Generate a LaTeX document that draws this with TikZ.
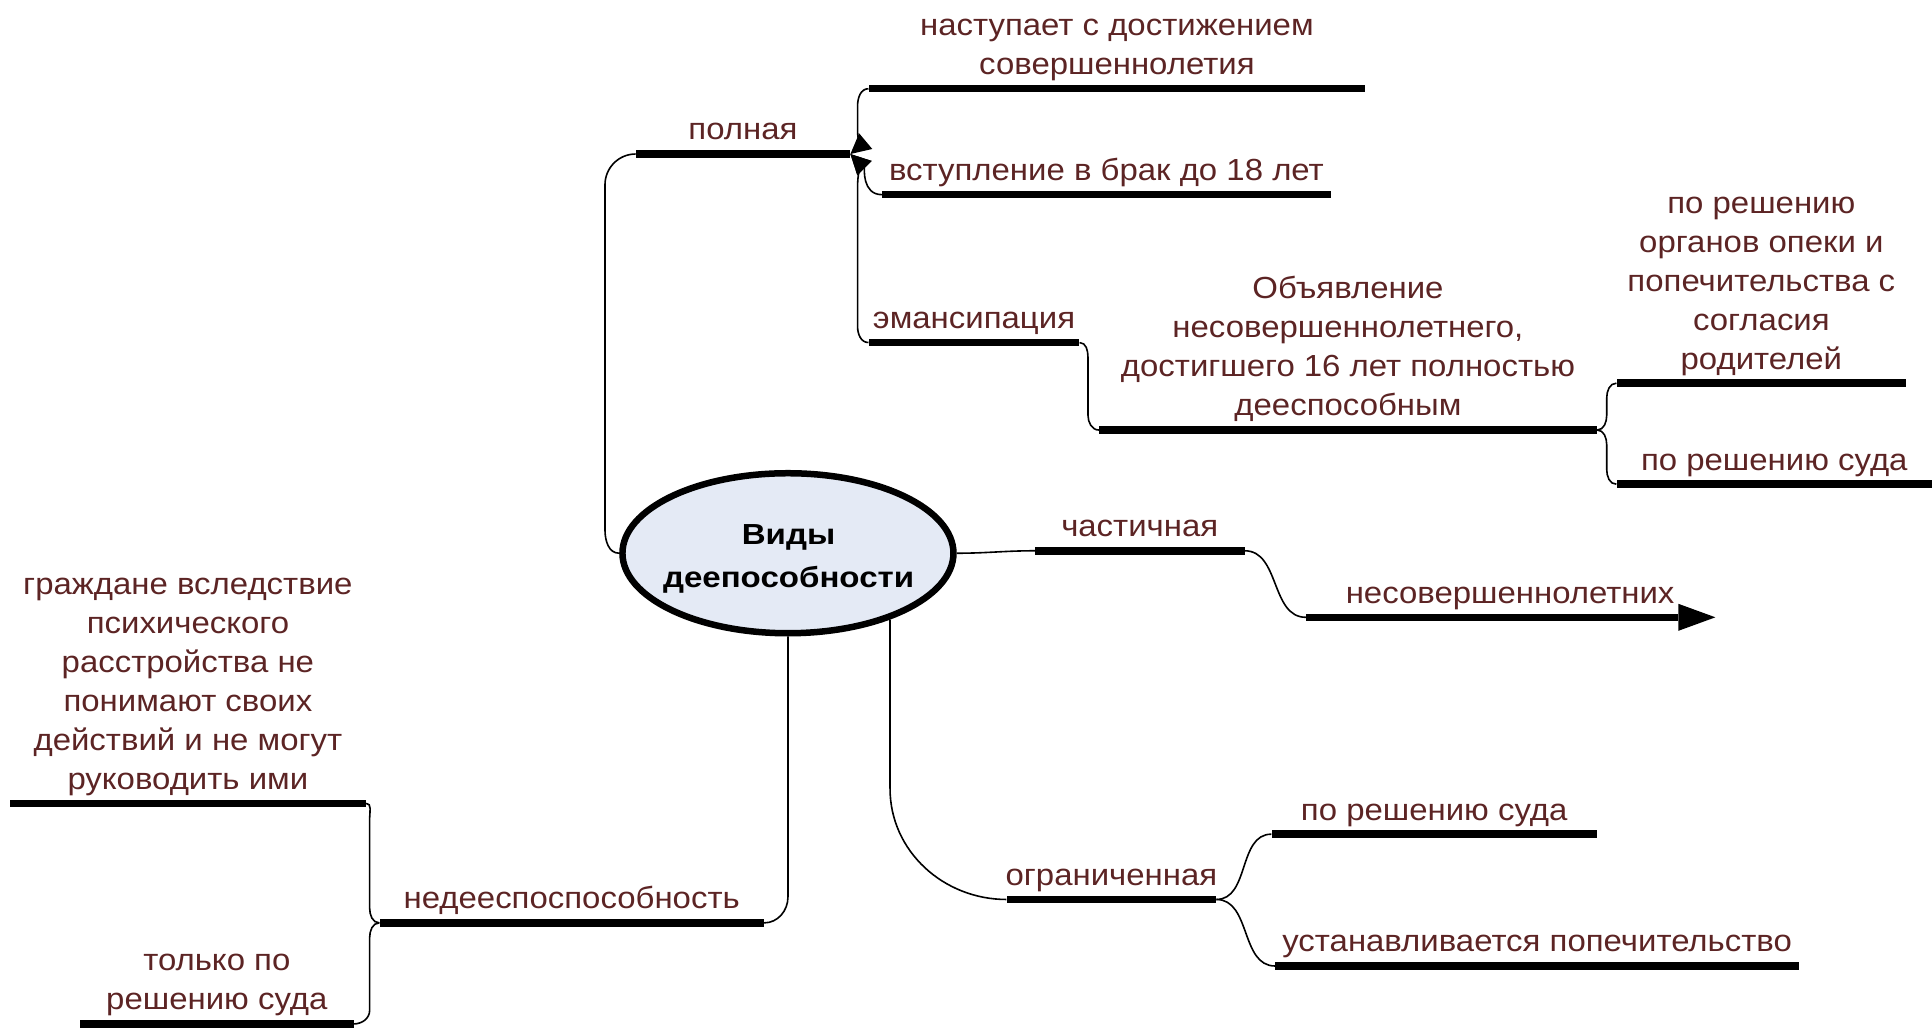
\documentclass[tikz,border=0pt]{standalone}
\usepackage{fontspec}
\setmainfont{Liberation Sans}[FakeStretch=1.08]
\newfontfamily\ellfont{Liberation Sans}[FakeStretch=1.14]
\usetikzlibrary{arrows.meta,shapes.geometric,calc}
\definecolor{txt}{RGB}{92,36,36}
\definecolor{ellfill}{RGB}{228,234,245}
\begin{document}
\begin{tikzpicture}[x=1.2321pt,y=-1.2321pt,
  bar/.style={rectangle,fill=black,inner sep=0pt,minimum height=7.5pt},
  lbl/.style={anchor=south,inner sep=0pt,text depth=0pt,align=center,text=txt,
    font=\fontsize{30.5pt}{39pt}\selectfont},
  conn/.style={line width=1.6pt,black},
  tip/.style={-{Triangle[length=20pt,width=20pt]}}]
\useasboundingbox (0,0) rectangle (1568,835);

% central ellipse
\node[ellipse,draw,line width=6.5pt,fill=ellfill,minimum width=331pt,minimum height=160pt,
  inner sep=0pt] (root) at (639.5,449) {};
\node[align=center,inner sep=0pt,font=\ellfont\bfseries\fontsize{29pt}{43pt}\selectfont]
  (root-t) at (640,454) {Виды\\деепособности};

% bars
\node[bar,minimum width=496.5pt] (nas) at (906.5,72) {};
\node[bar,minimum width=214.4pt] (pol) at (603,125) {};
\node[bar,minimum width=448.5pt] (vst) at (898,158) {};
\node[bar,minimum width=210.7pt] (ema) at (790.5,278) {};
\node[bar,minimum width=497.8pt] (obj) at (1094,349) {};
\node[bar,minimum width=289.5pt] (org) at (1429.5,311) {};
\node[bar,minimum width=315.4pt] (sud1) at (1440,393) {};
\node[bar,minimum width=209.5pt] (cha) at (925,447) {};
\node[bar,minimum width=372.1pt] (nes) at (1211,501) {};
\node[bar,minimum width=209.5pt] (ogr) at (902,730) {};
\node[bar,minimum width=325.3pt] (sud2) at (1164,677) {};
\node[bar,minimum width=523.6pt] (ust) at (1247.5,784) {};
\node[bar,minimum width=384.4pt] (ned) at (464,749) {};
\node[bar,minimum width=356.1pt] (gra) at (152.5,652) {};
\node[bar,minimum width=273.5pt] (tol) at (176,831) {};
\fill ([yshift=13.5pt]nes.east) -- ([xshift=37pt]nes.east) -- ([yshift=-13.5pt]nes.east) -- cycle;

% labels
\node[lbl] (nas-t) at ([yshift=10pt]nas.north) {наступает с достижением\\совершеннолетия};
\node[lbl] (pol-t) at ([yshift=10pt]pol.north) {полная};
\node[lbl] (vst-t) at ([yshift=10pt]vst.north) {вступление в брак до 18 лет};
\node[lbl] (ema-t) at ([yshift=10pt]ema.north) {эмансипация};
\node[lbl] (obj-t) at ([yshift=10pt]obj.north) {Объявление\\несовершеннолетнего,\\достигшего 16 лет полностью\\дееспособным};
\node[lbl] (org-t) at ([yshift=10pt]org.north) {по решению\\органов опеки и\\попечительства с\\согласия\\родителей};
\node[lbl] (sud1-t) at ([yshift=10pt]sud1.north) {по решению суда};
\node[lbl] (cha-t) at ([yshift=10pt]cha.north) {частичная};
\node[lbl] (nes-t) at ([xshift=18pt,yshift=10pt]nes.north) {несовершеннолетних};
\node[lbl] (ogr-t) at ([yshift=10pt]ogr.north) {ограниченная};
\node[lbl] (sud2-t) at ([yshift=10pt]sud2.north) {по решению суда};
\node[lbl] (ust-t) at ([yshift=10pt]ust.north) {устанавливается попечительство};
\node[lbl] (ned-t) at ([yshift=10pt]ned.north) {недееспоспособность};
\node[lbl] (gra-t) at ([yshift=10pt]gra.north) {граждане вследствие\\психического\\расстройства не\\понимают своих\\действий и не могут\\руководить ими};
\node[lbl] (tol-t) at ([yshift=10pt]tol.north) {только по\\решению суда};

% connectors
\draw[conn] (root.west) to[out=180,in=-90] (491,430) -- (491,150) to[out=90,in=180] (pol.west);
\draw[conn] (root.east) to[out=0,in=180] (cha.west);
\draw[conn] (cha.east) to[out=0,in=180] (nes.west);
\draw[conn] (root.-33) -- (root.-33 |- 0,640) to[out=-90,in=180] (ogr.west);
\draw[conn] (root.south) -- (root.south |- 0,728) to[out=-90,in=0] (ned.east);
\draw[conn] (ned.west) to[out=180,in=-90] (300,737) -- (300,664) to[out=90,in=0] (gra.east);
\draw[conn] (ned.west) to[out=180,in=90] (300,761) -- (300,820) to[out=-90,in=0] (tol.east);
\draw[conn] (ema.east) to[out=0,in=90] (883,290) -- (883,337) to[out=-90,in=180] (obj.west);
\draw[conn] (obj.east) to[out=0,in=-90] (1304,337) -- (1304,323) to[out=90,in=180] (org.west);
\draw[conn] (obj.east) to[out=0,in=90] (1304,361) -- (1304,381) to[out=-90,in=180] (sud1.west);
\draw[conn] (ogr.east) to[out=0,in=180] (sud2.west);
\draw[conn] (ogr.east) to[out=0,in=180] (ust.west);
\draw[conn,tip] (nas.west) to[out=180,in=90] (696,86) -- (696,104) to[out=-90,in=40] (pol.east);
\draw[conn,tip] (vst.west) to[out=180,in=-45] (pol.east);
\draw[conn,tip] (ema.west) to[out=180,in=-90] (696,265) -- (696,152) to[out=90,in=-45] (pol.east);
\end{tikzpicture}
\end{document}
